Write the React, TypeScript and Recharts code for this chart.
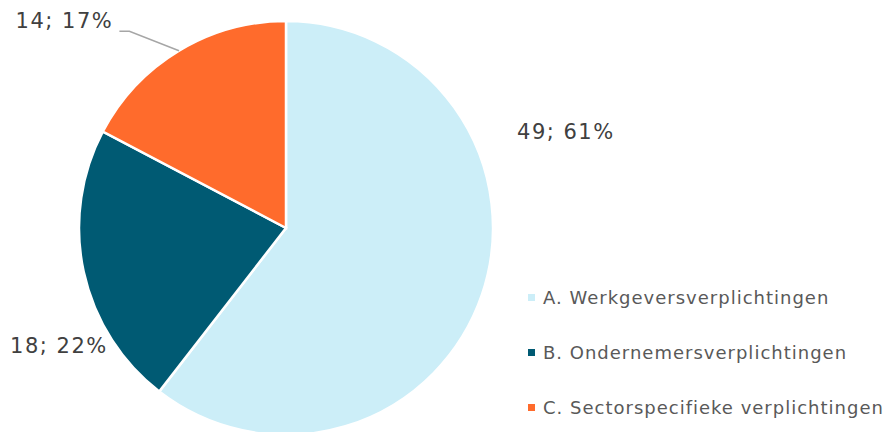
import { PieChart, Pie, Cell, Legend } from 'recharts';

const categories = [
  'A. Werkgeversverplichtingen',
  'B. Ondernemersverplichtingen',
  'C. Sectorspecifieke verplichtingen',
];
const counts = [49, 18, 14];
const percents = [61, 22, 17];
const colors = ['#CCEEF8', '#005A73', '#FF6B2C'];

// label placement (angle in degrees, distance from centre) - excel "best fit"
const labelAngles = [19, 207.5, 137];
const labelDist = [296, 256, 303];

const data = categories.map((name, i) => ({
  name,
  value: counts[i],
  pct: percents[i],
}));

const RAD = Math.PI / 180;
const FONT = 'DejaVu Sans, Verdana, sans-serif';

function renderLabel(props: any) {
  const { cx, cy, index, midAngle, outerRadius } = props;
  const a = labelAngles[index] * RAD;
  const x = cx + labelDist[index] * Math.cos(a);
  const y = cy - labelDist[index] * Math.sin(a);
  const text = `${counts[index]}; ${percents[index]}%`;
  let leader = null;
  if (index === 2) {
    const ex = cx + outerRadius * Math.cos(-midAngle * RAD);
    const ey = cy + outerRadius * Math.sin(-midAngle * RAD);
    const sx = x + 55;
    const sy = y + 10;
    leader = (
      <polyline
        points={`${sx},${sy} ${sx + 10},${sy} ${ex},${ey}`}
        fill="none"
        stroke="#A6A6A6"
        strokeWidth={1.5}
      />
    );
  }
  return (
    <g key={`lbl-${index}`}>
      {leader}
      <text
        x={x}
        y={y}
        textAnchor="middle"
        dominantBaseline="central"
        fill="#404040"
        fontSize={21}
        letterSpacing={1.5}
        fontFamily={FONT}
      >
        {text}
      </text>
    </g>
  );
}

function renderLegend() {
  return (
    <div style={{ fontFamily: FONT }}>
      {categories.map((c, i) => (
        <div
          key={c}
          style={{
            display: 'flex',
            alignItems: 'center',
            height: 55,
            color: '#595959',
            fontSize: 18,
            letterSpacing: 1,
          }}
        >
          <span
            style={{
              display: 'inline-block',
              width: 7,
              height: 7,
              background: colors[i],
              marginRight: 8,
            }}
          />
          {c}
        </div>
      ))}
    </div>
  );
}

export default function App() {
  return (
    <div style={{ position: 'absolute', left: 0, top: 0, background: '#fff' }}>
      <PieChart
        width={885}
        height={432}
        margin={{ top: 0, right: 0, bottom: 0, left: 0 }}
      >
        <Pie
          data={data}
          dataKey="value"
          cx={286}
          cy={228}
          outerRadius={207}
          startAngle={90}
          endAngle={-270}
          stroke="#fff"
          strokeWidth={2.5}
          label={renderLabel}
          labelLine={false}
          isAnimationActive={false}
        >
          {data.map((d, i) => (
            <Cell key={d.name} fill={colors[i]} />
          ))}
        </Pie>
        <Legend
          content={renderLegend}
          wrapperStyle={{ left: 528, top: 270, width: 360 }}
        />
      </PieChart>
    </div>
  );
}
